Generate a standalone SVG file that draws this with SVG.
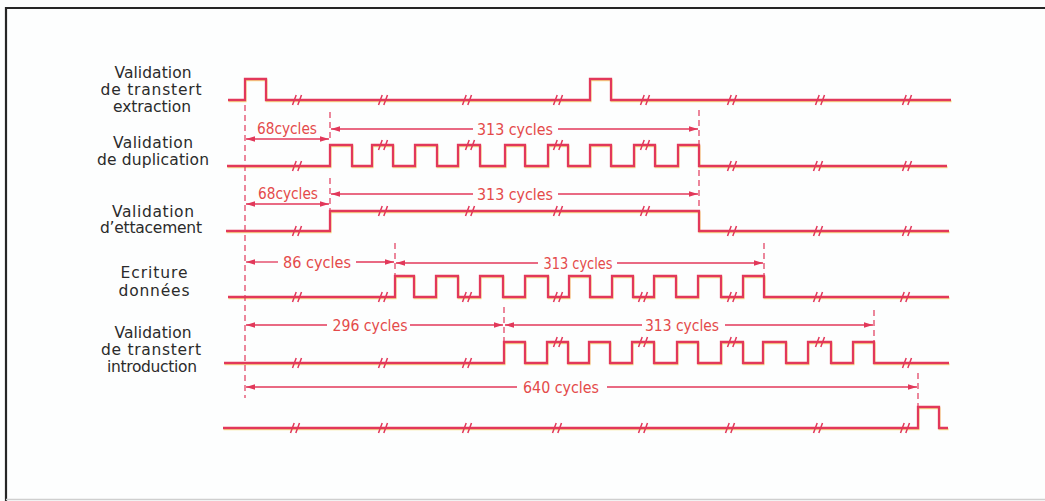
<svg xmlns="http://www.w3.org/2000/svg" xmlns:xlink="http://www.w3.org/1999/xlink" width="1045" height="501" viewBox="0 0 1045 501">
<style>
.bg{fill:#fdfefe}
.frame{stroke:#262626;stroke-width:2.2;fill:none}
.sig{fill:none;stroke:#e2385a;stroke-width:2.3;stroke-linejoin:miter}
.sigy{fill:none;stroke:#f3d65a;stroke-width:2;opacity:0.7}
.brk{fill:none;stroke:#e2385a;stroke-width:1.5}
.dash{stroke:#e2385a;stroke-width:1.2;stroke-dasharray:6 4;fill:none}
.dim{stroke:#e2385a;stroke-width:1.3;fill:none}
.lbl{font-family:"DejaVu Sans","Liberation Sans",sans-serif;font-size:15.5px;fill:#2b2b2b;text-anchor:middle}
.cyc{font-family:"DejaVu Sans","Liberation Sans",sans-serif;font-size:16px;fill:#e44a4a;text-anchor:middle}
</style>
<defs>
<marker id="ah" viewBox="0 0 10 6" refX="10" refY="3" markerWidth="9" markerHeight="5.5" markerUnits="userSpaceOnUse" orient="auto-start-reverse">
<path d="M0 0 L10 3 L0 6z" fill="#e2385a"/>
</marker>
<path id="brk" class="brk" d="M-4.5 5 L-0.8 -5 M0.8 5 L4.5 -5"/>
</defs>
<rect class="bg" x="0" y="0" width="1045" height="501"/>
<g id="frame">
<path class="frame" d="M6 501 V8 H1045"/>
<path d="M6 499.5 H1045" stroke="#cfcfcf" stroke-width="1.5"/>
</g>

<g id="row-extraction">
<text class="lbl" x="153" y="78" textLength="77" lengthAdjust="spacing">Validation</text>
<text class="lbl" x="151" y="95" textLength="101" lengthAdjust="spacing">de transtert</text>
<text class="lbl" x="152" y="112" textLength="78" lengthAdjust="spacing">extraction</text>
<path class="sigy" transform="translate(0.6,1.3)" d="M228 100 H245 V79 H266 V100 H590 V79 H611 V100 H951"/>
<path class="sig" d="M228 100 H245 V79 H266 V100 H590 V79 H611 V100 H951"/>
<use href="#brk" x="297" y="100"/><use href="#brk" x="383" y="100"/><use href="#brk" x="467" y="100"/><use href="#brk" x="558" y="100"/><use href="#brk" x="645" y="100"/><use href="#brk" x="732" y="100"/><use href="#brk" x="820" y="100"/><use href="#brk" x="907" y="100"/>
</g>

<g id="row-duplication">
<text class="lbl" x="153" y="148" textLength="80" lengthAdjust="spacing">Validation</text>
<text class="lbl" x="153" y="165" textLength="112" lengthAdjust="spacing">de duplication</text>
<path class="sigy" transform="translate(0.6,1.3)" d="M227 166 H330 V145 H352 V166 H372 V145 H393 V166 H415 V145 H437 V166 H458 V145 H480 V166 H505 V145 H525 V166 H548 V145 H568 V166 H590 V145 H611 V166 H634 V145 H655 V166 H678 V145 H699 V166 H947"/>
<path class="sig" d="M227 166 H330 V145 H352 V166 H372 V145 H393 V166 H415 V145 H437 V166 H458 V145 H480 V166 H505 V145 H525 V166 H548 V145 H568 V166 H590 V145 H611 V166 H634 V145 H655 V166 H678 V145 H699 V166 H947"/>
<use href="#brk" x="297" y="166"/><use href="#brk" x="383" y="145"/><use href="#brk" x="470" y="145"/><use href="#brk" x="558" y="145"/><use href="#brk" x="645" y="145"/><use href="#brk" x="732" y="166"/><use href="#brk" x="818" y="166"/><use href="#brk" x="907" y="166"/>
</g>

<g id="row-effacement">
<text class="lbl" x="153" y="217" textLength="82" lengthAdjust="spacing">Validation</text>
<text class="lbl" x="151" y="233" textLength="102" lengthAdjust="spacing">d’ettacement</text>
<path class="sigy" transform="translate(0.6,1.3)" d="M226 231 H330 V211 H699 V231 H949"/>
<path class="sig" d="M226 231 H330 V211 H699 V231 H949"/>
<use href="#brk" x="297" y="231"/><use href="#brk" x="383" y="211"/><use href="#brk" x="470" y="211"/><use href="#brk" x="558" y="211"/><use href="#brk" x="645" y="211"/><use href="#brk" x="732" y="231"/><use href="#brk" x="818" y="231"/><use href="#brk" x="907" y="231"/>
</g>

<g id="row-ecriture">
<text class="lbl" x="154" y="278" textLength="67" lengthAdjust="spacing">Ecriture</text>
<text class="lbl" x="154" y="296" textLength="71" lengthAdjust="spacing">données</text>
<path class="sigy" transform="translate(0.6,1.3)" d="M228 297 H395 V276 H414 V297 H436 V276 H458 V297 H480 V276 H503 V297 H525 V276 H548 V297 H569 V276 H590 V297 H612 V276 H633 V297 H654 V276 H676 V297 H698 V276 H721 V297 H743 V276 H764 V297 H949"/>
<path class="sig" d="M228 297 H395 V276 H414 V297 H436 V276 H458 V297 H480 V276 H503 V297 H525 V276 H548 V297 H569 V276 H590 V297 H612 V276 H633 V297 H654 V276 H676 V297 H698 V276 H721 V297 H743 V276 H764 V297 H949"/>
<use href="#brk" x="297" y="297"/><use href="#brk" x="383" y="297"/><use href="#brk" x="467" y="297"/><use href="#brk" x="558" y="297"/><use href="#brk" x="643" y="297"/><use href="#brk" x="732" y="297"/><use href="#brk" x="818" y="297"/><use href="#brk" x="905" y="297"/>
</g>

<g id="row-introduction">
<text class="lbl" x="153" y="338" textLength="77" lengthAdjust="spacing">Validation</text>
<text class="lbl" x="151" y="355" textLength="100" lengthAdjust="spacing">de transtert</text>
<text class="lbl" x="152" y="372" textLength="90" lengthAdjust="spacing">introduction</text>
<path class="sigy" transform="translate(0.6,1.3)" d="M224 363 H504 V342 H525 V363 H547 V342 H568 V363 H589 V342 H610 V363 H632 V342 H654 V363 H677 V342 H698 V363 H721 V342 H743 V363 H763 V342 H786 V363 H808 V342 H831 V363 H853 V342 H874 V363 H949"/>
<path class="sig" d="M224 363 H504 V342 H525 V363 H547 V342 H568 V363 H589 V342 H610 V363 H632 V342 H654 V363 H677 V342 H698 V363 H721 V342 H743 V363 H763 V342 H786 V363 H808 V342 H831 V363 H853 V342 H874 V363 H949"/>
<use href="#brk" x="297" y="363"/><use href="#brk" x="383" y="363"/><use href="#brk" x="467" y="363"/><use href="#brk" x="558" y="342"/><use href="#brk" x="643" y="342"/><use href="#brk" x="732" y="342"/><use href="#brk" x="820" y="342"/><use href="#brk" x="907" y="363"/>
</g>

<g id="row-final">
<path class="sigy" transform="translate(0.6,1.3)" d="M223 428 H918 V407 H939 V428 H948"/>
<path class="sig" d="M223 428 H918 V407 H939 V428 H948"/>
<use href="#brk" x="295" y="428"/><use href="#brk" x="383" y="428"/><use href="#brk" x="467" y="428"/><use href="#brk" x="557" y="428"/><use href="#brk" x="643" y="428"/><use href="#brk" x="730" y="428"/><use href="#brk" x="818" y="428"/><use href="#brk" x="905" y="428"/>
</g>

<g id="connectors">
<path class="dash" d="M245 105 V398"/>
<path class="dash" d="M330 112 V142"/>
<path class="dash" d="M330 178 V210"/>
<path class="dash" d="M699 110 V212"/>
<path class="dash" d="M395 243 V275"/>
<path class="dash" d="M764 243 V276"/>
<path class="dash" d="M504 307 V341"/>
<path class="dash" d="M874 310 V342"/>
<path class="dash" d="M918 373 V406"/>

<line class="dim" x1="246" y1="139" x2="329" y2="139" marker-start="url(#ah)" marker-end="url(#ah)"/>
<text class="cyc" x="287" y="134" textLength="60" lengthAdjust="spacingAndGlyphs">68cycles</text>
<line class="dim" x1="331" y1="129" x2="473" y2="129" marker-start="url(#ah)"/>
<line class="dim" x1="558" y1="129" x2="698" y2="129" marker-end="url(#ah)"/>
<text class="cyc" x="515" y="135" textLength="76" lengthAdjust="spacingAndGlyphs">313 cycles</text>

<line class="dim" x1="246" y1="204" x2="329" y2="204" marker-start="url(#ah)" marker-end="url(#ah)"/>
<text class="cyc" x="288" y="199" textLength="60" lengthAdjust="spacingAndGlyphs">68cycles</text>
<line class="dim" x1="331" y1="194" x2="473" y2="194" marker-start="url(#ah)"/>
<line class="dim" x1="558" y1="194" x2="698" y2="194" marker-end="url(#ah)"/>
<text class="cyc" x="515" y="200" textLength="76" lengthAdjust="spacingAndGlyphs">313 cycles</text>

<line class="dim" x1="246" y1="262" x2="278" y2="262" marker-start="url(#ah)"/>
<line class="dim" x1="356" y1="262" x2="394" y2="262" marker-end="url(#ah)"/>
<text class="cyc" x="317" y="268" textLength="68" lengthAdjust="spacingAndGlyphs">86 cycles</text>
<line class="dim" x1="396" y1="263" x2="538" y2="263" marker-start="url(#ah)"/>
<line class="dim" x1="617" y1="263" x2="763" y2="263" marker-end="url(#ah)"/>
<text class="cyc" x="578" y="269" textLength="69" lengthAdjust="spacingAndGlyphs">313 cycles</text>

<line class="dim" x1="246" y1="325" x2="327" y2="325" marker-start="url(#ah)"/>
<line class="dim" x1="410" y1="325" x2="503" y2="325" marker-end="url(#ah)"/>
<text class="cyc" x="370" y="331" textLength="75" lengthAdjust="spacingAndGlyphs">296 cycles</text>
<line class="dim" x1="505" y1="325" x2="642" y2="325" marker-start="url(#ah)"/>
<line class="dim" x1="725" y1="325" x2="873" y2="325" marker-end="url(#ah)"/>
<text class="cyc" x="682" y="331" textLength="74" lengthAdjust="spacingAndGlyphs">313 cycles</text>

<line class="dim" x1="246" y1="387" x2="517" y2="387" marker-start="url(#ah)"/>
<line class="dim" x1="607" y1="387" x2="917" y2="387" marker-end="url(#ah)"/>
<text class="cyc" x="561" y="393" textLength="76" lengthAdjust="spacingAndGlyphs">640 cycles</text>
</g>
</svg>
